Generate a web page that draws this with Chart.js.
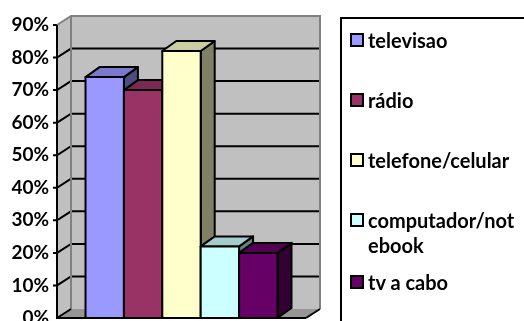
<!DOCTYPE html>
<html>
<head>
<meta charset="utf-8">
<script src="https://cdn.jsdelivr.net/npm/chart.js@4.4.1/dist/chart.umd.min.js"></script>
<style>
    html, body { margin: 0; padding: 0; background: #fff; overflow: hidden; }
    #wrap { position: relative; width: 524px; height: 321px; }
    #legend {
        position: absolute; left: 340px; top: 17px; width: 220px; height: 330px;
        border: 2px solid #000; box-sizing: border-box;
        font: bold 20px Lato, 'Open Sans', sans-serif; color: #000;
    }
    .item { position: absolute; left: 8px; line-height: 25px; }
    .swatch {
        position: absolute; left: 0; top: 5px; width: 14px; height: 14px;
        border: 2px solid #000; box-sizing: border-box;
    }
    .label { position: absolute; left: 18px; top: 0; width: 152px; word-break: break-all; white-space: normal; }
</style>
</head>
<body>
<div id="wrap">
    <canvas id="chart" width="524" height="321"></canvas>
    <div id="legend"></div>
</div>
<script>
(function() {
    'use strict';

    // Series shown in the chart (one category, one bar per series)
    const categories = [''];
    const seriesNames = ['televisao', 'rádio', 'telefone/celular', 'computador/notebook', 'tv a cabo'];
    const seriesValues = [0.74, 0.70, 0.82, 0.22, 0.20];
    const seriesColors = ['#9999FF', '#993366', '#FFFFCC', '#CCFFFF', '#660066'];
    const yTickLabels = ['0%', '10%', '20%', '30%', '40%', '50%', '60%', '70%', '80%', '90%'];

    // 3D look: wall depth and bar depth (pixels)
    const WALL_DX = 14, WALL_DY = 9;
    const BAR_DX = 14, BAR_DY = 10;

    function shade(hex, f) {
        const n = parseInt(hex.slice(1), 16);
        const r = Math.round(((n >> 16) & 255) * f);
        const g = Math.round(((n >> 8) & 255) * f);
        const b = Math.round((n & 255) * f);
        return `rgb(${r}, ${g}, ${b})`;
    }

    function poly(ctx, pts, fill, stroke, lw) {
        ctx.beginPath();
        ctx.moveTo(pts[0][0], pts[0][1]);
        for (let i = 1; i < pts.length; i++) ctx.lineTo(pts[i][0], pts[i][1]);
        ctx.closePath();
        if (fill) { ctx.fillStyle = fill; ctx.fill(); }
        if (stroke) { ctx.strokeStyle = stroke; ctx.lineWidth = lw; ctx.stroke(); }
    }

    // Walls, floor and gridlines behind the bars
    const wallsPlugin = {
        id: 'walls3d',
        beforeDatasetsDraw(chart) {
            const ctx = chart.ctx;
            const { left, right, top, bottom } = chart.chartArea;
            const y = chart.scales.y;
            ctx.save();
            ctx.lineJoin = 'miter';

            // side wall
            poly(ctx, [[left, top], [left + WALL_DX, top - WALL_DY], [left + WALL_DX, bottom - WALL_DY], [left, bottom]],
                '#C0C0C0', null);
            // back wall
            poly(ctx, [[left + WALL_DX, top - WALL_DY], [right + WALL_DX, top - WALL_DY],
                [right + WALL_DX, bottom - WALL_DY], [left + WALL_DX, bottom - WALL_DY]], '#C0C0C0', null);
            // floor
            poly(ctx, [[left, bottom], [left + WALL_DX, bottom - WALL_DY], [right + WALL_DX, bottom - WALL_DY], [right, bottom]],
                '#969696', null);

            // gridlines across side and back wall
            ctx.strokeStyle = '#000';
            ctx.lineWidth = 2;
            y.ticks.forEach(t => {
                if (t.value === 0) return;
                const py = y.getPixelForValue(t.value);
                if (t.value >= y.max - 1e-9) return;
                ctx.beginPath();
                ctx.moveTo(left - 4, py);
                ctx.lineTo(left, py);
                ctx.lineTo(left + WALL_DX, py - WALL_DY);
                ctx.lineTo(right + WALL_DX, py - WALL_DY);
                ctx.stroke();
            });
            // top tick mark
            ctx.beginPath();
            ctx.moveTo(left - 4, top);
            ctx.lineTo(left, top);
            ctx.stroke();

            // wall edges
            ctx.strokeStyle = '#808080';
            ctx.lineWidth = 2;
            ctx.beginPath();
            ctx.moveTo(left, top);
            ctx.lineTo(left + WALL_DX, top - WALL_DY);
            ctx.lineTo(right + WALL_DX, top - WALL_DY);
            ctx.lineTo(right + WALL_DX, bottom - WALL_DY);
            ctx.moveTo(left + WALL_DX, top - WALL_DY);
            ctx.lineTo(left + WALL_DX, bottom - WALL_DY);
            ctx.stroke();

            // floor edges
            ctx.strokeStyle = '#000';
            ctx.beginPath();
            ctx.moveTo(left, bottom);
            ctx.lineTo(left + WALL_DX, bottom - WALL_DY);
            ctx.moveTo(right, bottom);
            ctx.lineTo(right + WALL_DX, bottom - WALL_DY);
            ctx.stroke();

            // front value axis
            ctx.beginPath();
            ctx.moveTo(left, top);
            ctx.lineTo(left, bottom);
            ctx.lineTo(right, bottom);
            ctx.stroke();
            ctx.restore();
        },
        // Draw each bar as a block, left to right, so later bars cover earlier side faces
        afterDatasetsDraw(chart) {
            const ctx = chart.ctx;
            ctx.save();
            ctx.lineJoin = 'round';
            chart.data.datasets.forEach((ds, i) => {
                const meta = chart.getDatasetMeta(i);
                meta.data.forEach(bar => {
                    const { x, y, base, width } = bar.getProps(['x', 'y', 'base', 'width'], true);
                    const x0 = x - width / 2, x1 = x + width / 2;
                    const col = ds.backgroundColor;
                    poly(ctx, [[x1, y], [x1 + BAR_DX, y - BAR_DY], [x1 + BAR_DX, base - BAR_DY], [x1, base]],
                        shade(col, 0.5), '#000', 2);
                    poly(ctx, [[x0, y], [x1, y], [x1 + BAR_DX, y - BAR_DY], [x0 + BAR_DX, y - BAR_DY]],
                        shade(col, 0.8), '#000', 2);
                    poly(ctx, [[x0, y], [x1, y], [x1, base], [x0, base]], col, '#000', 2);
                });
            });
            ctx.restore();
        }
    };

    const datasets = seriesNames.map((name, i) => ({
        label: name,
        data: [seriesValues[i]],
        backgroundColor: seriesColors[i],
        borderColor: '#000',
        borderWidth: 2
    }));

    const chart = new Chart(document.getElementById('chart'), {
        type: 'bar',
        data: { labels: categories, datasets: datasets },
        options: {
            responsive: false,
            animation: false,
            events: [],
            layout: { padding: { left: 0, top: 25, right: 218, bottom: 3 } },
            datasets: { bar: { categoryPercentage: 0.771, barPercentage: 1 } },
            plugins: { legend: { display: false }, tooltip: { enabled: false } },
            scales: {
                x: { display: false },
                y: {
                    min: 0,
                    max: 0.9,
                    grid: { display: false, drawTicks: false },
                    border: { display: false },
                    ticks: {
                        stepSize: 0.1,
                        padding: 8,
                        color: '#000',
                        font: { family: "Lato, 'Open Sans', sans-serif", size: 19, weight: 'bold' },
                        callback: (v, idx) => yTickLabels[idx]
                    },
                    afterFit(scale) {
                        scale.width = 57;
                        scale.paddingTop = 0;
                        scale.paddingBottom = 0;
                    }
                }
            }
        },
        plugins: [wallsPlugin]
    });

    // Legend built from the chart's datasets
    const legend = document.getElementById('legend');
    const centers = [40, 100, 160, 220, 282];
    chart.data.datasets.forEach((ds, i) => {
        const item = document.createElement('div');
        item.className = 'item';
        item.style.top = (centers[i] - 19 - 12.5) + 'px';
        const sw = document.createElement('span');
        sw.className = 'swatch';
        sw.style.background = ds.backgroundColor;
        const txt = document.createElement('span');
        txt.className = 'label';
        txt.textContent = ds.label;
        item.appendChild(sw);
        item.appendChild(txt);
        legend.appendChild(item);
    });
})();
</script>
</body>
</html>
